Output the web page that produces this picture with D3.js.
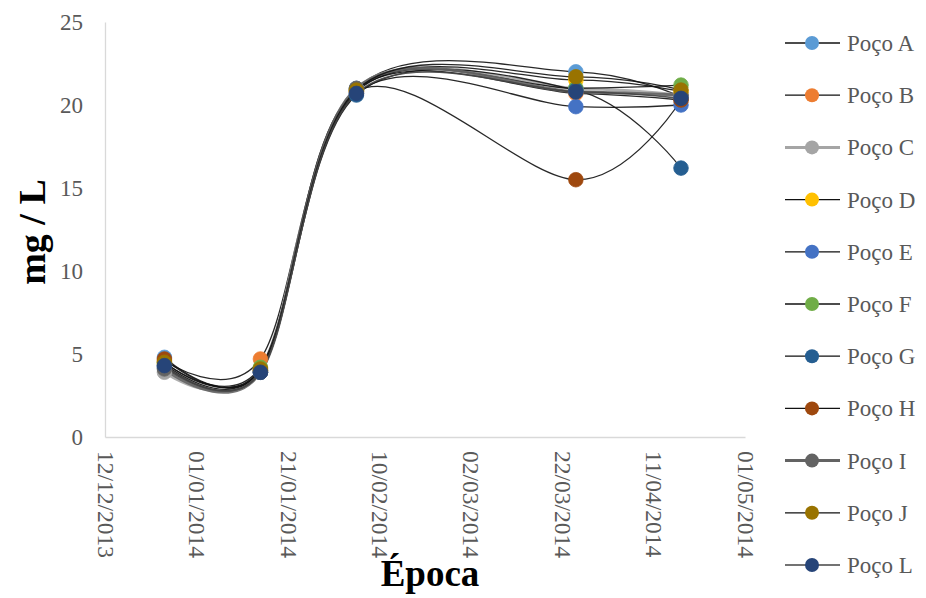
<!DOCTYPE html>
<html><head><meta charset="utf-8">
<script src="https://cdn.jsdelivr.net/npm/d3@7"></script>
<style>
body{margin:0;background:#fff;}
text{font-family:"Liberation Serif","Times New Roman",serif;}
</style></head>
<body><svg id="c" width="926" height="598"></svg>
<script>
const dates = ["2013-12-25","2014-01-15","2014-02-05","2014-03-25","2014-04-17"];
const xTickLabels = ["12/12/2013","01/01/2014","21/01/2014","10/02/2014","02/03/2014","22/03/2014","11/04/2014","01/05/2014"];
const yTicks = [0,5,10,15,20,25];
const seriesNames = ["Poço A","Poço B","Poço C","Poço D","Poço E","Poço F","Poço G","Poço H","Poço I","Poço J","Poço L"];
const pocoA = [4.8, 4.0, 21.0, 22.0, 20.5];
const pocoB = [4.6, 4.7, 20.9, 20.7, 20.3];
const pocoC = [3.9, 4.1, 21.0, 21.0, 20.6];
const pocoD = [4.4, 4.0, 20.8, 21.5, 20.8];
const pocoE = [4.3, 3.9, 20.7, 19.9, 20.0];
const pocoF = [4.5, 4.2, 20.9, 21.0, 21.2];
const pocoG = [4.2, 3.9, 20.6, 20.9, 16.2];
const pocoH = [4.7, 4.0, 20.8, 15.5, 20.3];
const pocoI = [4.1, 3.9, 21.0, 20.8, 20.6];
const pocoJ = [4.5, 4.1, 20.9, 21.7, 20.9];
const pocoL = [4.3, 3.9, 20.7, 20.8, 20.4];
const seriesValues = [pocoA,pocoB,pocoC,pocoD,pocoE,pocoF,pocoG,pocoH,pocoI,pocoJ,pocoL];
const markerColors = ["#5b9bd5","#ed7d31","#a5a5a5","#ffc000","#4472c4","#70ad47","#255e91","#9e480e","#636363","#997300","#264478"];
const lineColors = ["#111","#111","#a5a5a5","#111","#111","#111","#111","#111","#636363","#111","#444"];
const lineWidths = [1.3,1.3,3,1.3,1.3,1.3,1.3,1.3,3,1.3,1.6];

const svg = d3.select("#c");
const parse = d3.timeParse("%Y-%m-%d");
const parseTick = d3.timeParse("%d/%m/%Y");
const x = d3.scaleTime().domain([parseTick(xTickLabels[0]), parseTick(xTickLabels[xTickLabels.length-1])]).range([105,745]);
const y = d3.scaleLinear().domain([0,25]).range([437,22]);

// axes
const yAxis = svg.append("g").attr("transform","translate(105,0)")
  .call(d3.axisLeft(y).tickValues(yTicks).tickSize(0).tickPadding(22));
yAxis.select(".domain").attr("stroke","#d9d9d9").attr("stroke-width",1.3);
yAxis.selectAll("text").attr("font-size",23).attr("fill","#595959").attr("font-family","Liberation Serif");

const xAxis = svg.append("g").attr("transform","translate(0,437)")
  .call(d3.axisBottom(x).tickValues(xTickLabels.map(parseTick)).tickSize(0).tickFormat((d,i)=>xTickLabels[i]));
xAxis.select(".domain").attr("stroke","#d9d9d9").attr("stroke-width",1.3);
xAxis.selectAll("text").attr("font-size",23.5).attr("fill","#595959").attr("font-family","Liberation Serif")
  .attr("transform","rotate(90)").attr("x",14).attr("y",0).attr("dy","0.33em").attr("text-anchor","start");

// lines
const line = d3.line().x((d,i)=>x(parse(dates[i]))).y(d=>y(d)).curve(d3.curveCardinal.tension(0));
seriesValues.forEach((vals,s)=>{
  svg.append("path").attr("d",line(vals)).attr("fill","none")
    .attr("stroke",lineColors[s]).attr("stroke-width",lineWidths[s]).attr("stroke-opacity",0.9);
});
seriesValues.forEach((vals,s)=>{
  svg.append("g").selectAll("circle").data(vals).join("circle")
    .attr("cx",(d,i)=>x(parse(dates[i]))).attr("cy",d=>y(d)).attr("r",7.3)
    .attr("fill",markerColors[s]).attr("stroke",markerColors[s]).attr("stroke-width",0.8);
});

// titles
svg.append("text").attr("transform","translate(45,232) rotate(-90)").attr("text-anchor","middle")
  .attr("font-size",38).attr("font-weight","bold").attr("fill","#000").text("mg / L");
svg.append("text").attr("x",430).attr("y",586).attr("text-anchor","middle")
  .attr("font-size",37).attr("font-weight","bold").attr("fill","#000").text("Época");

// legend
const lg = svg.append("g");
seriesNames.forEach((n,i)=>{
  const cy = 43 + i*52.2;
  lg.append("line").attr("x1",785).attr("x2",840).attr("y1",cy).attr("y2",cy)
    .attr("stroke",lineColors[i]).attr("stroke-width",lineWidths[i]);
  lg.append("circle").attr("cx",812).attr("cy",cy).attr("r",7).attr("fill",markerColors[i]);
  lg.append("text").attr("x",847).attr("y",cy).attr("dy","0.35em").attr("font-size",23)
    .attr("fill","#595959").text(n);
});
</script></body></html>
